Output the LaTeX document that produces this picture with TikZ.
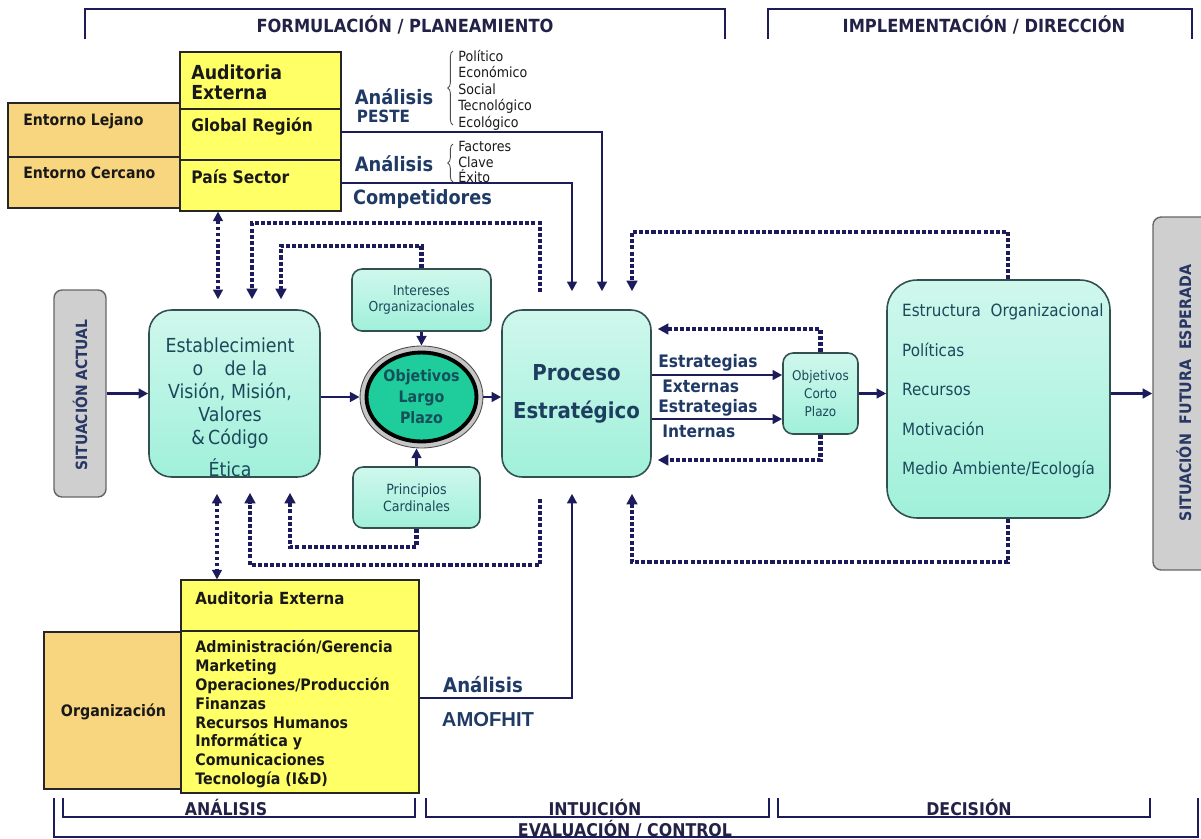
\documentclass[tikz,border=0pt]{standalone}
\usepackage{fontspec}
\setmainfont{DejaVu Sans}[FakeStretch=0.9]
\newfontfamily\arialfont{Liberation Sans}
\usetikzlibrary{arrows.meta,shapes.geometric,decorations.pathreplacing}

\definecolor{lnblue}{RGB}{28,28,92}
\definecolor{lblblue}{RGB}{32,58,102}
\definecolor{brtxt}{RGB}{34,34,70}
\definecolor{boxtxt}{RGB}{28,72,92}
\definecolor{pctxt}{RGB}{30,62,96}
\definecolor{olptxt}{RGB}{20,80,90}
\definecolor{sittxt}{RGB}{40,55,100}
\definecolor{mint}{RGB}{160,240,218}
\definecolor{mintdk}{RGB}{50,80,80}
\definecolor{yel}{RGB}{255,255,102}
\definecolor{orng}{RGB}{248,214,128}
\definecolor{olpfill}{RGB}{30,204,156}

\newcommand\fsz[2]{\fontsize{#1}{#2}\selectfont}

\tikzset{
  arr/.style={draw=lnblue, line width=1.4pt, -{Triangle[length=5.5pt,width=5.5pt]}},
  dotln/.style={draw=lnblue, line width=2.5pt, dash pattern=on 2.3pt off 1.2pt, -{Triangle[length=6pt,width=6pt]}},
  dotdbl/.style={draw=lnblue, line width=1.8pt, dash pattern=on 1.8pt off 1.6pt, {Triangle[length=5.5pt,width=5.5pt]}-{Triangle[length=5.5pt,width=5.5pt]}},
  brk/.style={draw=lnblue, line width=1.1pt},
}

\begin{document}
\begin{tikzpicture}[x=0.02cm, y=-0.02cm]
  \useasboundingbox (0,0) rectangle (1201,839);

  \begin{scope}[every node/.style={draw=black!85, line width=0.6pt, fill=orng, inner sep=0pt, minimum width=3.44cm}]
    \node (enL) at (94,130)  [minimum height=1.08cm] {};
    \node (enC) at (94,182.5) [minimum height=1.02cm] {};
    \node (org) at (112.5,710.5) [minimum width=2.74cm, minimum height=3.14cm] {};
  \end{scope}

  \begin{scope}[every node/.style={draw=black!85, line width=0.6pt, fill=yel, inner sep=0pt, minimum width=3.22cm}]
    \node (aeA) at (260.5,80.5)  [minimum height=1.14cm] {};
    \node (aeB) at (260.5,134.5) [minimum height=1.02cm] {};
    \node (aeC) at (260.5,185.5) [minimum height=1.02cm] {};
    \node (aeD) at (300,605.5) [minimum width=4.76cm, minimum height=1.02cm] {};
    \node (aeE) at (300,712)   [minimum width=4.76cm, minimum height=3.24cm] {};
  \end{scope}

  \begin{scope}[every node/.style={draw=black!60, line width=0.8pt, fill=gray!38, rounded corners=0.16cm, inner sep=0pt}]
    \node (sa) at (80,393.5)   [minimum width=1.04cm, minimum height=4.14cm] {};
    \node (sf) at (1184,393.5) [minimum width=1.24cm, minimum height=7.06cm] {};
  \end{scope}

  \begin{scope}[every node/.style={draw=mintdk, line width=0.9pt, top color=mint!50, bottom color=mint, text=boxtxt, align=center, inner sep=0pt}]
    \node (est) at (234.5,393.5) [minimum width=3.42cm, minimum height=3.34cm, rounded corners=0.45cm] {};
    \node (io)  at (421.5,300)   [minimum width=2.78cm, minimum height=1.24cm, rounded corners=0.2cm, font=\fsz{7.8}{9.1}] {Intereses\\Organizacionales};
    \node (pc)  at (416.5,497.5) [minimum width=2.54cm, minimum height=1.22cm, rounded corners=0.2cm, font=\fsz{8}{9.4}] {Principios\\Cardinales};
    \node (pe)  at (576.5,393.5) [minimum width=2.98cm, minimum height=3.34cm, rounded corners=0.4cm, text=pctxt, font=\fsz{12.5}{21.6}\bfseries] {Proceso\\Estratégico};
    \node (oc)  at (820.5,393.5) [minimum width=1.5cm, minimum height=1.62cm, rounded corners=0.2cm, font=\fsz{7.6}{10.2}] {Objetivos\\Corto\\Plazo};
    \node (es)  at (998.5,399)   [minimum width=4.46cm, minimum height=4.76cm, rounded corners=0.6cm] {};
  \end{scope}

  \node[ellipse, draw=black!70, line width=0.5pt, fill=gray!45, minimum width=2.46cm, minimum height=2.04cm, inner sep=0pt] (olpO) at (421.5,397) {};
  \node[ellipse, draw=black, line width=2.2pt, fill=olpfill, minimum width=2.2cm, minimum height=1.78cm, inner sep=0pt, align=center, text=olptxt, font=\fsz{9}{12}\bfseries] (olp) at (421.5,397) {Objetivos\\Largo\\Plazo};

  \begin{scope}[every node/.style={inner sep=0pt, text=black!90}]
    \node[anchor=west, align=left, font=\fsz{11}{11.6}\bfseries] (tAud) at (191,82) {Auditoria\\Externa};
    \node[anchor=west, font=\fsz{9.8}{12}\bfseries] (tGlo) at (191,126) {Global Región};
    \node[anchor=west, font=\fsz{9.8}{12}\bfseries] (tPais) at (191,177) {País Sector};
    \node[anchor=west, font=\fsz{8.9}{11}\bfseries] (tLej) at (23,121) {Entorno Lejano};
    \node[anchor=west, font=\fsz{8.9}{11}\bfseries] (tCer) at (23,173) {Entorno Cercano};
    \node[anchor=west, align=left, font=\fsz{8}{9.4}] (tLst1) at (458,90) {Político\\Económico\\Social\\Tecnológico\\Ecológico};
    \node[anchor=west, align=left, font=\fsz{8}{8.6}] (tLst2) at (458,162) {Factores\\Clave\\Éxito};
    \node[anchor=west, font=\fsz{9.5}{11}\bfseries] (tAud2) at (195,598) {Auditoria Externa};
    \node[anchor=west, align=left, font=\fsz{9}{10.7}\bfseries] (tLst3) at (195,714) {Administración/Gerencia\\Marketing\\Operaciones/Producción\\Finanzas\\Recursos Humanos\\Informática y\\Comunicaciones\\Tecnología (I\&D)};
    \node[font=\fsz{9}{11}\bfseries] (tOrg) at (113.5,712) {Organización};
  \end{scope}

  \begin{scope}[every node/.style={inner sep=0pt, text=lblblue}]
    \node[font=\fsz{11.3}{13}\bfseries] (tAn1) at (394,97) {Análisis};
    \node[font=\fsz{9.6}{11}\bfseries] (tPes) at (383.5,116) {PESTE};
    \node[font=\fsz{11.3}{13}\bfseries] (tAn2) at (394,164) {Análisis};
    \node[font=\fsz{11.2}{13}\bfseries] (tCom) at (422.5,199) {Competidores};
    \node[font=\fsz{11.5}{13}\bfseries] (tAn3) at (483,685) {Análisis};
    \node[font=\arialfont\fsz{11.5}{13}\bfseries] (tAmo) at (488,720) {AMOFHIT};
    \node[anchor=west, font=\fsz{9.8}{11}\bfseries] (tEe1) at (658,363) {Estrategias};
    \node[anchor=west, font=\fsz{9.8}{11}\bfseries] (tEe2) at (662,386) {Externas};
    \node[anchor=west, font=\fsz{9.8}{11}\bfseries] (tEi1) at (658,408) {Estrategias};
    \node[anchor=west, font=\fsz{9.8}{11}\bfseries] (tEi2) at (662,431) {Internas};
  \end{scope}

  \node[text=boxtxt, align=center, font=\fsz{11}{13.1}] (tEst) at (230,407) {Establecimient\\o\hspace{1.1em}de la\\Visión, Misión,\\Valores\\\&\,Código\\[5pt]Ética};
  \node[text=boxtxt, anchor=west, align=left, font=\fsz{9.6}{22.5}] (tEs) at (896,391) {Estructura\ \ Organizacional\\Políticas\\Recursos\\Motivación\\Medio Ambiente/Ecología};
  \node[rotate=90, text=sittxt, font=\fsz{8.8}{10}\bfseries] (tSa) at (80,395) {SITUACIÓN ACTUAL};
  \node[rotate=90, text=sittxt, font=\fsz{9}{10}\bfseries] (tSf) at (1184,393) {SITUACIÓN\ \ FUTURA\ \ ESPERADA};

  \draw[black!70, line width=0.5pt, decorate, decoration={brace, amplitude=3pt}] (453,125) -- (453,51);
  \draw[black!70, line width=0.5pt, decorate, decoration={brace, amplitude=3pt}] (453,182) -- (453,144);

  \draw[brk] (85,39) |- (725,9) -- (725,39);
  \draw[brk] (768,39) |- (1192,9) -- (1192,39);
  \draw[brk] (63,798) |- (415,817) -- (415,798);
  \draw[brk] (426,798) |- (769,817) -- (769,798);
  \draw[brk] (778,798) |- (1150,817) -- (1150,798);
  \draw[brk] (54,798) |- (1198,837) -- (1198,798);

  \begin{scope}[every node/.style={text=brtxt, inner sep=0pt}]
    \node[font=\fsz{10.3}{12}\bfseries] (tFor) at (405,25) {FORMULACIÓN / PLANEAMIENTO};
    \node[font=\fsz{10.3}{12}\bfseries] (tImp) at (984,25) {IMPLEMENTACIÓN / DIRECCIÓN};
    \node[font=\fsz{10}{12}\bfseries] (tAnl) at (226,807) {ANÁLISIS};
    \node[font=\fsz{10}{12}\bfseries] (tInt) at (595,807) {INTUICIÓN};
    \node[font=\fsz{10}{12}\bfseries] (tDec) at (969,807) {DECISIÓN};
    \node[font=\fsz{10}{12}\bfseries] (tEva) at (625,829) {EVALUACIÓN / CONTROL};
  \end{scope}

  \draw[arr] (sa.east) -- (est.west);
  \draw[arr] (est.east |- olpO.west) -- (olpO.west);
  \draw[arr] (olpO.east) -- (pe.west |- olpO.east);
  \draw[arr] (io.south) -- (olpO.north);
  \draw[arr] (pc.north) -- (pc.north |- olpO.south);
  \draw[arr] (pe.east |- 0,375) -- (oc.west |- 0,375);
  \draw[arr] (pe.east |- 0,419) -- (oc.west |- 0,419);
  \draw[arr] (oc.east) -- (es.west |- oc.east);
  \draw[arr] (es.east |- sf.west) -- (sf.west);

  \draw[arr, line width=1.7pt, shorten >=0.36cm] (aeB.east |- 0,132) -| (pe.north -| 602,0);
  \draw[arr, line width=1.7pt, shorten >=0.36cm] (aeC.east |- 0,183) -| (pe.north -| 572,0);
  \draw[arr, shorten >=0.32cm] (aeE.east |- 0,698) -| (pe.south -| 572,0);

  \draw[dotdbl, shorten >=0.2cm] (aeC.south -| 218,0) -- (est.north -| 218,0);
  \draw[dotdbl, shorten <=0.32cm] (est.south -| 217,0) -- (aeD.north -| 217,0);
  \draw[dotln, shorten <=0.34cm, shorten >=0.2cm] (pe.north -| 540,0) |- (252,223) -- (est.north -| 252,0);
  \draw[dotln, shorten >=0.2cm] (io.north) |- (281,246) -- (est.north -| 281,0);
  \draw[dotln, shorten <=0.42cm, shorten >=0.3cm] (pe.south -| 540,0) |- (250,565) -- (est.south -| 250,0);
  \draw[dotln, shorten >=0.3cm] (pc.south) |- (290,547) -- (est.south -| 290,0);
  \draw[dotln, shorten >=0.36cm] (es.north -| 1008,0) |- (632,232) -- (pe.north -| 632,0);
  \draw[dotln, shorten >=0.32cm] (es.south -| 1008,0) |- (632,562) -- (pe.south -| 632,0);
  \draw[dotln, shorten >=0.12cm] (oc.north) |- (pe.east |- 0,329);
  \draw[dotln, shorten >=0.12cm] (oc.south) |- (pe.east |- 0,460);

\end{tikzpicture}
\end{document}
